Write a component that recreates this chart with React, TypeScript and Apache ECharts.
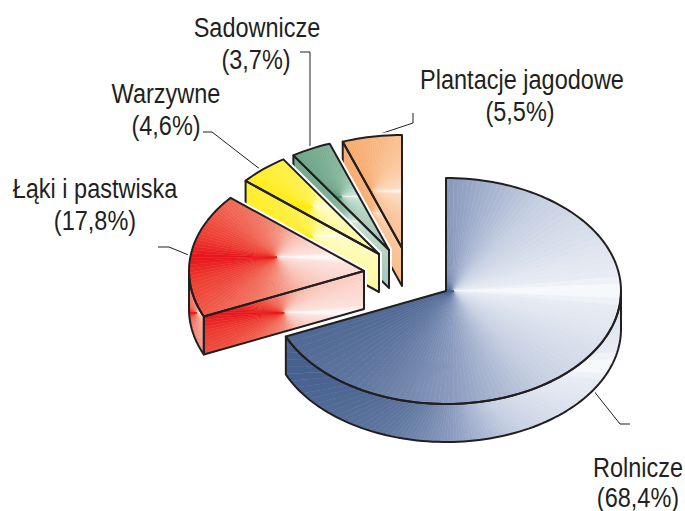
import React, { useEffect, useRef } from "react";
import * as echarts from "echarts";

const categories = ["Rolnicze", "Łąki i pastwiska", "Warzywne", "Sadownicze", "Plantacje jagodowe"];
const shares = [68.4, 17.8, 4.6, 3.7, 5.5];

type Pt = [number, number];
const RX = 175;
const RY = 113;
const DEPTH = 38;
const INK = "#231f20";
const apexes: Pt[] = [[446, 291], [364, 271], [379, 254], [389, 250], [402, 248]];
const ramps: [number, number[]][][] = [
  [[0, [70, 96, 142]], [0.25, [97, 120, 160]], [0.5, [140, 156, 192]], [0.75, [198, 208, 226]], [0.97, [232, 236, 244]], [1, [252, 252, 254]]],
  [[0, [232, 20, 28]], [0.08, [236, 60, 48]], [0.25, [240, 100, 82]], [0.5, [243, 140, 122]], [0.75, [248, 190, 178]], [0.97, [252, 226, 220]], [1, [255, 255, 255]]],
  [[0, [255, 236, 0]], [0.2, [255, 238, 50]], [0.5, [255, 243, 100]], [0.75, [255, 249, 160]], [0.97, [255, 252, 195]], [1, [255, 255, 240]]],
  [[0, [75, 145, 110]], [0.25, [110, 165, 135]], [0.5, [135, 183, 157]], [0.75, [170, 205, 187]], [0.97, [205, 228, 215]], [1, [250, 252, 250]]],
  [[0, [245, 145, 60]], [0.25, [246, 165, 100]], [0.5, [248, 180, 125]], [0.75, [250, 200, 160]], [0.97, [252, 220, 195]], [1, [255, 250, 245]]],
];
const labelLayout: { cx: number; cx2: number; y1: number; y2: number }[] = [
  { cx: 638, cx2: 638, y1: 467, y2: 497 },
  { cx: 95, cx2: 95, y1: 188, y2: 220 },
  { cx: 166, cx2: 166, y1: 93, y2: 125 },
  { cx: 257, cx2: 256, y1: 27, y2: 59 },
  { cx: 522, cx2: 520, y1: 79, y2: 111 },
];
const leaders: Pt[][] = [
  [[593, 390], [620, 424], [630, 424]],
  [[158, 247], [169, 247], [191, 256]],
  [[203, 132], [212, 132], [261, 170]],
  [[300, 52], [310, 52], [310, 149]],
  [[413, 113], [413, 123], [380, 134]],
];

const total = shares.reduce((a, b) => a + b, 0);
const startAngles = shares.map((_, i) =>
  (shares.slice(0, i).reduce((a, b) => a + b, 0) / total) * Math.PI * 2
);
const drawOrder = [4, 3, 2, 1, 0];

function colorAt(ramp: [number, number[]][], t: number) {
  for (let i = 1; i < ramp.length; i++) {
    if (t <= ramp[i][0]) {
      const [t0, c0] = ramp[i - 1];
      const [t1, c1] = ramp[i];
      const f = (t - t0) / (t1 - t0);
      const c = c0.map((v, k) => Math.round(v + (c1[k] - v) * f));
      return `rgb(${c[0]},${c[1]},${c[2]})`;
    }
  }
  const c = ramp[ramp.length - 1][1];
  return `rgb(${c[0]},${c[1]},${c[2]})`;
}

function clipHalf(poly: Pt[], c: Pt, d: Pt, sign: number): Pt[] {
  const out: Pt[] = [];
  const f = (p: Pt) => sign * (d[0] * (p[1] - c[1]) - d[1] * (p[0] - c[0]));
  for (let i = 0; i < poly.length; i++) {
    const a = poly[i];
    const b = poly[(i + 1) % poly.length];
    const fa = f(a);
    const fb = f(b);
    if (fa >= 0) out.push(a);
    if (fa >= 0 !== fb >= 0) {
      const s = fa / (fa - fb);
      out.push([a[0] + (b[0] - a[0]) * s, a[1] + (b[1] - a[1]) * s]);
    }
  }
  return out;
}

function area(poly: Pt[]) {
  let s = 0;
  for (let i = 0; i < poly.length; i++) {
    const a = poly[i];
    const b = poly[(i + 1) % poly.length];
    s += a[0] * b[1] - b[0] * a[1];
  }
  return Math.abs(s / 2);
}

function conicFaces(poly: Pt[], ramp: [number, number[]][]) {
  const xs = poly.map((p) => p[0]);
  const ys = poly.map((p) => p[1]);
  const c: Pt = [(Math.min(...xs) + Math.max(...xs)) / 2, (Math.min(...ys) + Math.max(...ys)) / 2];
  const n = 144;
  const els: any[] = [];
  for (let k = 0; k < n; k++) {
    const a0 = -Math.PI + (k / n) * Math.PI * 2;
    const a1 = -Math.PI + ((k + 1) / n) * Math.PI * 2;
    const d0: Pt = [Math.cos(a0), Math.sin(a0)];
    const d1: Pt = [Math.cos(a1), Math.sin(a1)];
    let piece = clipHalf(poly, c, d0, 1);
    if (piece.length > 2) piece = clipHalf(piece, c, d1, -1);
    if (piece.length < 3 || area(piece) < 0.02) continue;
    const mid = (a0 + a1) / 2;
    // mid = +-PI points left (full colour), 0 points right (white)
    const t = 1 - Math.abs(mid) / Math.PI;
    const col = colorAt(ramp, t);
    els.push({
      type: "polygon",
      silent: true,
      shape: { points: piece },
      style: { fill: col, stroke: col, lineWidth: 0.5 },
    });
  }
  return els;
}

function arcPts(ax: number, ay: number, from: number, to: number) {
  const pts: Pt[] = [];
  const steps = Math.max(4, Math.ceil(Math.abs(to - from) / 0.03));
  for (let i = 0; i <= steps; i++) {
    const th = from + ((to - from) * i) / steps;
    pts.push([ax + RX * Math.sin(th), ay - RY * Math.cos(th)]);
  }
  return pts;
}

function renderSlice(_: any, api: any) {
  const idx = api.value(0) as number;
  const share = api.value(1) as number;
  const start = api.value(2) as number;
  const end = start + (share / total) * Math.PI * 2;
  const [ax, ay] = apexes[idx];
  const ramp = ramps[idx];
  const top: Pt[] = [[ax, ay], ...arcPts(ax, ay, start, end)];
  const faces: Pt[][] = [];

  // radial wall: only the starting edge of a wedge whose wall faces the viewer
  const sx = ax + RX * Math.sin(start);
  const sy = ay - RY * Math.cos(start);
  if (idx !== 0) {
    faces.push([[ax, ay], [sx, sy], [sx, sy + DEPTH], [ax, ay + DEPTH]]);
  }
  // rim: the part of the arc on the lower half of the ellipse
  const rimFrom = Math.max(start, Math.PI / 2);
  const rimTo = Math.min(end, (Math.PI * 3) / 2);
  if (rimTo > rimFrom) {
    const arc = arcPts(ax, ay, rimFrom, rimTo);
    faces.push([...arc, ...arc.slice().reverse().map((p) => [p[0], p[1] + DEPTH] as Pt)]);
  }

  const children: any[] = [];
  const all = [...faces, top];
  all.forEach((poly) =>
    children.push({
      type: "polygon",
      silent: true,
      shape: { points: poly },
      style: { fill: "#fff", stroke: "#fff", lineWidth: 6, lineJoin: "round" },
    })
  );
  all.forEach((poly) => {
    children.push(...conicFaces(poly, ramp));
  });
  all.forEach((poly) =>
    children.push({
      type: "polygon",
      silent: true,
      shape: { points: poly },
      style: { fill: "none", stroke: INK, lineWidth: 2, lineJoin: "round" },
    })
  );
  return { type: "group", children };
}

function pct(v: number) {
  return `(${String(v).replace(".", ",")}%)`;
}

export default function App() {
  const ref = useRef<HTMLDivElement>(null);
  useEffect(() => {
    document.body.style.margin = "0";
    const chart = echarts.init(ref.current!, undefined, { renderer: "svg" });
    const fontBase = {
      fontFamily: "'Liberation Sans', sans-serif",
      fontSize: 28,
      fill: INK,
      textAlign: "center",
      textVerticalAlign: "middle",
    };
    const textScale = 0.84;
    const graphics: any[] = [];
    categories.forEach((name, i) => {
      const l = labelLayout[i];
      graphics.push({ type: "text", x: l.cx, y: l.y1, scaleX: textScale, silent: true, style: { ...fontBase, text: name } });
      graphics.push({ type: "text", x: l.cx2, y: l.y2, scaleX: textScale, silent: true, style: { ...fontBase, text: pct(shares[i]) } });
      graphics.push({
        type: "polyline",
        silent: true,
        shape: { points: leaders[i] },
        style: { fill: "none", stroke: INK, lineWidth: 1 },
      });
    });
    chart.setOption({
      animation: false,
      backgroundColor: "#fff",
      graphic: graphics,
      series: [
        {
          type: "custom",
          coordinateSystem: "none",
          silent: true,
          clip: false,
          renderItem: renderSlice,
          data: drawOrder.map((i) => ({
            name: categories[i],
            value: [i, shares[i], startAngles[i]],
          })),
        },
      ],
    });
    return () => chart.dispose();
  }, []);
  return <div ref={ref} style={{ position: "absolute", left: 0, top: 0, width: 685, height: 511 }} />;
}
